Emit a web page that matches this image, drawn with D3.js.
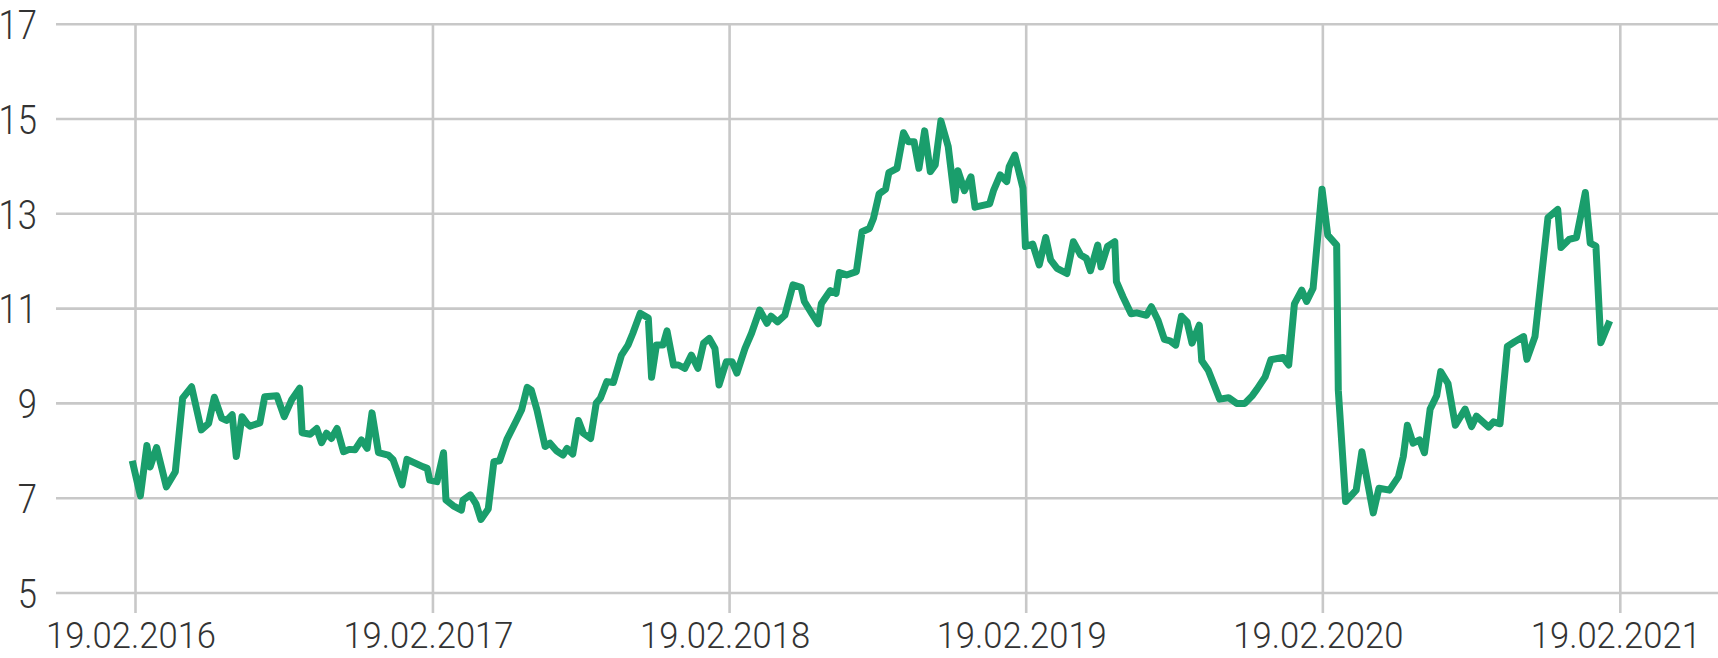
<!DOCTYPE html>
<html>
<head>
<meta charset="utf-8">
<script src="https://cdn.jsdelivr.net/npm/d3@7"></script>
<style>
  html, body { margin: 0; padding: 0; background: #ffffff; overflow: hidden; }
  svg { display: block; }
  .tick-label { font-family: Roboto, "Liberation Sans", sans-serif; font-weight: 300; fill: #333333; }
</style>
</head>
<body>
<svg id="chart" width="1718" height="658"></svg>
<script>
// ---- data ----
const dates = [
  "2016-02-15","2016-02-25","2016-03-04","2016-03-08","2016-03-16","2016-03-28","2016-04-08","2016-04-17","2016-04-28","2016-05-10",
  "2016-05-19","2016-05-26","2016-06-04","2016-06-10","2016-06-17","2016-06-22","2016-06-29","2016-07-05","2016-07-09","2016-07-21",
  "2016-07-27","2016-08-11","2016-08-20","2016-08-29","2016-09-08","2016-09-11","2016-09-21","2016-09-29","2016-10-05","2016-10-11",
  "2016-10-17","2016-10-24","2016-11-01","2016-11-08","2016-11-15","2016-11-23","2016-11-30","2016-12-06","2016-12-14","2016-12-26",
  "2017-01-01","2017-01-12","2017-01-18","2017-02-07","2017-02-12","2017-02-15","2017-02-24","2017-03-04","2017-03-07","2017-03-16",
  "2017-03-26","2017-03-28","2017-04-06","2017-04-13","2017-04-19","2017-04-28","2017-05-05","2017-05-12","2017-05-21","2017-06-02",
  "2017-06-08","2017-06-15","2017-06-20","2017-06-27","2017-07-07","2017-07-13","2017-07-21","2017-07-29","2017-08-03","2017-08-10",
  "2017-08-17","2017-08-23","2017-09-01","2017-09-08","2017-09-13","2017-09-21","2017-09-29","2017-10-09","2017-10-17","2017-10-23",
  "2017-11-01","2017-11-11","2017-11-15","2017-11-21","2017-11-29","2017-12-04","2017-12-12","2017-12-18","2017-12-26","2018-01-03",
  "2018-01-11","2018-01-18","2018-01-25","2018-02-01","2018-02-06","2018-02-15","2018-02-22","2018-02-28","2018-03-10","2018-03-18",
  "2018-03-28","2018-04-06","2018-04-11","2018-04-19","2018-04-28","2018-05-08","2018-05-18","2018-05-22","2018-05-31","2018-06-08",
  "2018-06-12","2018-06-23","2018-06-30","2018-07-04","2018-07-13","2018-07-25","2018-08-01","2018-08-10","2018-08-15","2018-08-22",
  "2018-08-30","2018-09-03","2018-09-13","2018-09-21","2018-09-27","2018-10-04","2018-10-10","2018-10-17","2018-10-24","2018-10-30",
  "2018-11-06","2018-11-15","2018-11-23","2018-11-27","2018-12-05","2018-12-13","2018-12-18","2019-01-05","2019-01-10","2019-01-18",
  "2019-01-26","2019-01-29","2019-02-05","2019-02-15","2019-02-18","2019-02-27","2019-03-07","2019-03-15","2019-03-21","2019-03-29",
  "2019-04-10","2019-04-18","2019-04-27","2019-05-04","2019-05-09","2019-05-18","2019-05-22","2019-05-30","2019-06-08","2019-06-10",
  "2019-06-18","2019-06-28","2019-07-05","2019-07-17","2019-07-23","2019-07-31","2019-08-08","2019-08-15","2019-08-22","2019-08-29",
  "2019-09-05","2019-09-11","2019-09-20","2019-09-23","2019-10-01","2019-10-15","2019-10-26","2019-11-05","2019-11-15","2019-11-24",
  "2019-11-30","2019-12-10","2019-12-17","2020-01-01","2020-01-08","2020-01-15","2020-01-24","2020-01-30","2020-02-07","2020-02-18",
  "2020-02-25","2020-03-07","2020-03-09","2020-03-18","2020-03-31","2020-04-07","2020-04-21","2020-04-28","2020-05-11","2020-05-22",
  "2020-05-28","2020-06-02","2020-06-09","2020-06-17","2020-06-23","2020-06-30","2020-07-08","2020-07-13","2020-07-22","2020-07-31",
  "2020-08-12","2020-08-20","2020-08-26","2020-09-10","2020-09-16","2020-09-24","2020-10-03","2020-10-12","2020-10-23","2020-10-27",
  "2020-11-06","2020-11-22","2020-12-04","2020-12-08","2020-12-18","2020-12-27","2021-01-07","2021-01-13","2021-01-20","2021-01-26",
  "2021-02-06"
];
const values = [
  7.79,7.05,8.11,7.66,8.07,7.24,7.56,9.11,9.35,8.44,
  8.58,9.13,8.69,8.64,8.76,7.88,8.72,8.58,8.52,8.59,
  9.14,9.16,8.72,9.07,9.32,8.38,8.35,8.47,8.17,8.37,
  8.26,8.47,7.98,8.03,8.02,8.23,8.05,8.80,7.96,7.91,
  7.81,7.28,7.82,7.66,7.63,7.38,7.35,7.96,6.96,6.84,
  6.75,6.96,7.07,6.88,6.55,6.77,7.77,7.79,8.24,8.65,
  8.86,9.34,9.28,8.86,8.09,8.16,8.00,7.91,8.05,7.93,
  8.64,8.37,8.26,9.01,9.11,9.46,9.44,10.02,10.23,10.48,
  10.90,10.80,9.55,10.23,10.23,10.53,9.81,9.81,9.74,10.02,
  9.74,10.27,10.37,10.16,9.39,9.88,9.88,9.64,10.16,10.48,
  10.97,10.69,10.84,10.72,10.86,11.50,11.45,11.15,10.90,10.68,
  11.11,11.38,11.32,11.76,11.71,11.78,12.62,12.69,12.90,13.42,
  13.52,13.87,13.96,14.71,14.52,14.52,13.96,14.75,13.89,14.03,
  14.96,14.42,13.29,13.91,13.49,13.78,13.14,13.21,13.50,13.82,
  13.68,13.99,14.24,13.54,12.31,12.36,11.92,12.50,12.03,11.85,
  11.74,12.41,12.13,12.06,11.80,12.34,11.88,12.31,12.41,11.57,
  11.25,10.89,10.91,10.86,11.04,10.76,10.35,10.32,10.23,10.84,
  10.72,10.27,10.65,9.90,9.70,9.09,9.12,9.00,9.00,9.16,
  9.30,9.56,9.92,9.97,9.81,11.10,11.39,11.15,11.43,13.52,
  12.55,12.34,9.28,6.93,7.17,7.98,6.69,7.21,7.17,7.45,
  7.88,8.54,8.16,8.23,7.96,8.88,9.16,9.67,9.42,8.54,
  8.88,8.51,8.73,8.50,8.61,8.57,10.20,10.30,10.41,9.93,
  10.41,12.92,13.09,12.29,12.46,12.50,13.45,12.38,12.32,10.28,
  10.74
];
const yTicks = [5, 7, 9, 11, 13, 15, 17];
const xTickLabels = ["19.02.2016","19.02.2017","19.02.2018","19.02.2019","19.02.2020","19.02.2021"];

// ---- setup ----
const W = 1718, H = 658;
const parse = d3.timeParse("%Y-%m-%d");
const parseTick = d3.timeParse("%d.%m.%Y");
const data = dates.map((d, i) => ({ date: parse(d), value: values[i] }));
const xTicks = xTickLabels.map(parseTick);

const x = d3.scaleTime()
  .domain([xTicks[0], xTicks[xTicks.length - 1]])
  .range([135.5, 1620.3]);
const y = d3.scaleLinear().domain([5, 17]).range([593, 24.2]);

const svg = d3.select("#chart");
const gridColor = "#c8c8c8";

// horizontal gridlines
svg.append("g").selectAll("line.h").data(yTicks).join("line")
  .attr("x1", 56).attr("x2", W)
  .attr("y1", d => y(d)).attr("y2", d => y(d))
  .attr("stroke", gridColor).attr("stroke-width", 2.6);

// vertical gridlines
svg.append("g").selectAll("line.v").data(xTicks).join("line")
  .attr("x1", d => x(d)).attr("x2", d => x(d))
  .attr("y1", y(17)).attr("y2", 613)
  .attr("stroke", gridColor).attr("stroke-width", 2.6);

// y axis labels via d3 axis
const yAxis = d3.axisLeft(y).tickValues(yTicks).tickSize(0).tickPadding(0);
const yAxisG = svg.append("g").attr("transform", "translate(37,0)").call(yAxis);
yAxisG.select(".domain").remove();
yAxisG.selectAll("text")
  .attr("class", "tick-label")
  .attr("font-size", 40)
  .attr("dy", "0.355em")
  .attr("x", 0)
  .style("font-family", "Roboto, 'Liberation Sans', sans-serif")
  .style("font-weight", 300)
  .style("fill", "#333");

// x axis labels via d3 axis
const xAxis = d3.axisBottom(x).tickValues(xTicks).tickSize(0).tickPadding(0)
  .tickFormat(d3.timeFormat("%d.%m.%Y"));
const xAxisG = svg.append("g").attr("transform", "translate(-5,648)").call(xAxis);
xAxisG.select(".domain").remove();
xAxisG.selectAll("text")
  .attr("class", "tick-label")
  .attr("font-size", 37)
  .attr("dy", 0)
  .attr("y", 0)
  .style("font-family", "Roboto, 'Liberation Sans', sans-serif")
  .style("font-weight", 300)
  .style("fill", "#333");

// narrow the glyphs a bit to match the condensed face of the original
yAxisG.selectAll("text").each(function() {
  const w = this.getComputedTextLength();
  d3.select(this).attr("textLength", w * 0.865).attr("lengthAdjust", "spacingAndGlyphs");
});
xAxisG.selectAll("text").each(function() {
  const w = this.getComputedTextLength();
  d3.select(this).attr("textLength", w * 0.935).attr("lengthAdjust", "spacingAndGlyphs");
});

// line
const line = d3.line().x(d => x(d.date)).y(d => y(d.value));
svg.append("path")
  .datum(data)
  .attr("d", line)
  .attr("fill", "none")
  .attr("stroke", "#1a9e6c")
  .attr("stroke-width", 7)
  .attr("stroke-linejoin", "round")
  .attr("stroke-linecap", "butt");
</script>
</body>
</html>
